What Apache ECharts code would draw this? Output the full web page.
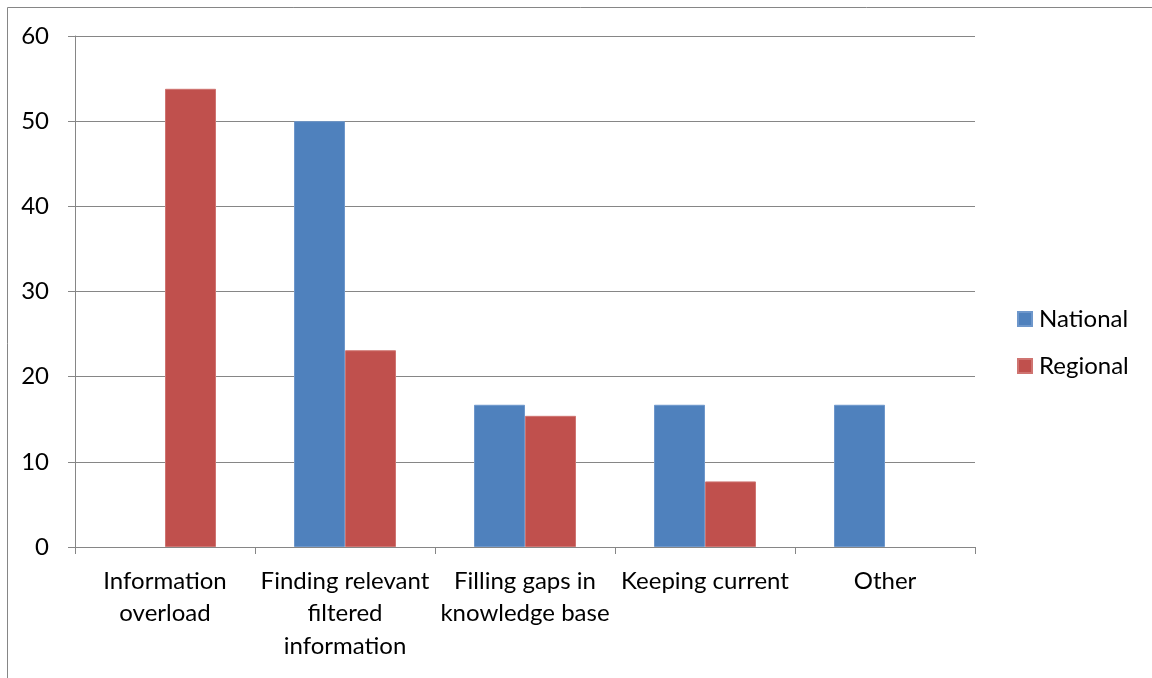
<!DOCTYPE html>
<html>
<head>
<meta charset="utf-8">
<script src="https://cdn.jsdelivr.net/npm/echarts@6/dist/echarts.min.js"></script>
<style>
  html, body { margin: 0; padding: 0; background: #fff; }
  #chart { width: 1152px; height: 678px; }
</style>
</head>
<body>
<div id="chart"></div>
<script>
// Challenge categories along the x axis
const categories = [
  'Information\noverload',
  'Finding relevant\nfiltered\ninformation',
  'Filling gaps in\nknowledge base',
  'Keeping current',
  'Other'
];
// Percentages per group (null = no response in that group)
const nationalValues = [null, 50, 16.7, 16.7, 16.7];
const regionalValues = [53.8, 23.1, 15.4, 7.7, null];
const yTicks = [0, 10, 20, 30, 40, 50, 60];

const FONT = 'Lato, "Open Sans", sans-serif';
const GREY = '#868686';

const chart = echarts.init(document.getElementById('chart'), null, { renderer: 'canvas' });
chart.setOption({
  animation: false,
  backgroundColor: '#fff',
  graphic: [{
    type: 'rect',
    shape: { x: 7.5, y: 7.5, width: 1160, height: 700 },
    style: { fill: 'none', stroke: GREY, lineWidth: 1 },
    silent: true
  }],
  grid: { left: 75, right: 177, top: 36, bottom: 131, containLabel: false },
  legend: {
    orient: 'vertical',
    left: 1012,
    top: 302,
    itemWidth: 14,
    itemHeight: 14,
    itemGap: 23,
    icon: 'rect',
    textStyle: { fontFamily: FONT, fontSize: 24, color: '#000', padding: [0, 0, 0, 2] },
    data: ['National', 'Regional']
  },
  xAxis: {
    type: 'category',
    data: categories,
    axisLine: { lineStyle: { color: GREY, width: 1 } },
    axisTick: { show: true, length: 7, lineStyle: { color: GREY } },
    axisLabel: {
      fontFamily: FONT, fontSize: 24, color: '#000',
      lineHeight: 32.5, margin: 18, interval: 0
    }
  },
  yAxis: {
    type: 'value',
    min: yTicks[0],
    max: yTicks[yTicks.length - 1],
    interval: 10,
    axisLine: { show: true, lineStyle: { color: GREY, width: 1 } },
    axisTick: { show: true, length: 7, lineStyle: { color: GREY } },
    splitLine: { show: true, lineStyle: { color: GREY, width: 1 } },
    axisLabel: { fontFamily: FONT, fontSize: 24, color: '#000', margin: 26 }
  },
  series: [
    {
      name: 'National',
      type: 'bar',
      data: nationalValues,
      barWidth: 51,
      barGap: '0%',
      itemStyle: { color: '#4F81BD', borderColor: '#6E97CB', borderWidth: 1 }
    },
    {
      name: 'Regional',
      type: 'bar',
      data: regionalValues,
      barWidth: 51,
      barGap: '0%',
      itemStyle: { color: '#C0504D', borderColor: '#CF7471', borderWidth: 1 }
    }
  ]
});
</script>
</body>
</html>
